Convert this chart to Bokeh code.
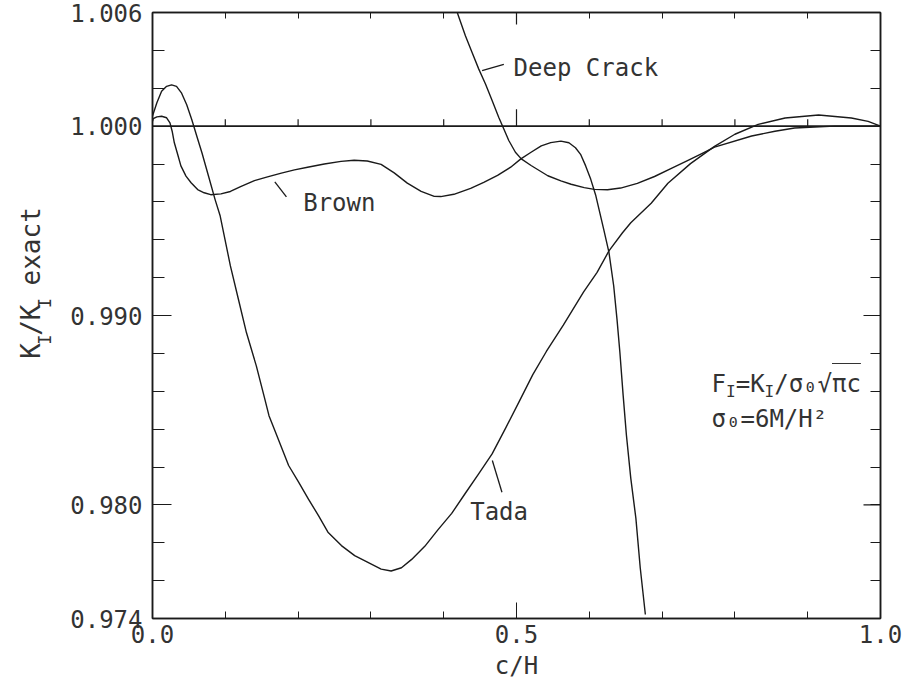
import math
from bokeh.plotting import figure
from bokeh.layouts import row
from bokeh.models import FixedTicker, NumeralTickFormatter, LinearAxis, Label, Span, Range1d
from bokeh.core.properties import value
from bokeh.embed import file_html
from bokeh.resources import INLINE

# ---------------- data ----------------
x_major = [0.0, 0.5, 1.0]
x_minor = [0.1, 0.2, 0.3, 0.4, 0.6, 0.7, 0.8, 0.9]
y_major = [0.974, 0.980, 0.990, 1.000, 1.006]
y_minor = [0.976, 0.978, 0.982, 0.984, 0.986, 0.988, 0.992, 0.994, 0.996, 0.998, 1.002, 1.004]
top_long_ticks = [0.5]
right_long_ticks = [0.980, 0.990]

exact_value = 1.000
exact_tick_x = [0.1, 0.2, 0.3, 0.4, 0.6, 0.7, 0.8, 0.9]
exact_major_tick_x = [0.5]

brown_x = [0.0, 0.001, 0.006, 0.0125, 0.0194, 0.024, 0.027, 0.030, 0.0353, 0.039, 0.046, 0.053,
           0.062, 0.071, 0.080, 0.094, 0.107, 0.121, 0.140, 0.158, 0.177, 0.195, 0.213, 0.236,
           0.259, 0.277, 0.295, 0.314, 0.332, 0.350, 0.369, 0.387, 0.396, 0.414, 0.437, 0.455,
           0.474, 0.492, 0.506, 0.520, 0.534, 0.547, 0.561, 0.572, 0.581, 0.588, 0.595, 0.602,
           0.609, 0.6198, 0.627, 0.6335, 0.638, 0.642, 0.6465, 0.651, 0.657, 0.664, 0.670, 0.677]
brown_y = [1.00026, 1.00039, 1.00049, 1.00052, 1.00044, 1.00017, 0.99973, 0.99912, 0.99841, 0.9979, 0.99736, 0.99701,
           0.99665, 0.99648, 0.99638, 0.99642, 0.99655, 0.99681, 0.99712, 0.99732, 0.99752, 0.99769, 0.99783, 0.998,
           0.99814, 0.9982, 0.99816, 0.99798, 0.99753, 0.99699, 0.99655, 0.99629, 0.99628, 0.9964, 0.99671, 0.99703,
           0.9974, 0.99783, 0.99827, 0.99862, 0.99896, 0.99913, 0.99921, 0.99912, 0.99886, 0.99851, 0.9979, 0.99719,
           0.99632, 0.99455, 0.99333, 0.99157, 0.98982, 0.98806, 0.98578, 0.98368, 0.9814, 0.97929, 0.97667, 0.97421]

tada_x = [0.0, 0.006, 0.0125, 0.0194, 0.0262, 0.033, 0.040, 0.047, 0.054, 0.061, 0.068, 0.077,
          0.086, 0.093, 0.107, 0.118, 0.129, 0.1426, 0.1536, 0.160, 0.169, 0.187, 0.2007, 0.214,
          0.228, 0.241, 0.2595, 0.2777, 0.2959, 0.3141, 0.3278, 0.342, 0.356, 0.374, 0.392, 0.411,
          0.4295, 0.448, 0.4665, 0.4854, 0.504, 0.5224, 0.541, 0.5643, 0.592, 0.6107, 0.627, 0.6456,
          0.657, 0.685, 0.708, 0.739, 0.772, 0.800, 0.832, 0.869, 0.915, 0.960, 0.983, 1.0]
tada_y = [1.00053, 1.00123, 1.00184, 1.0021, 1.00218, 1.0021, 1.00174, 1.00113, 1.00034, 0.99945, 0.99858, 0.99735,
          0.99612, 0.99525, 0.99262, 0.99086, 0.9891, 0.98734, 0.98569, 0.98471, 0.98384, 0.98208, 0.9812, 0.98032,
          0.97943, 0.97856, 0.97785, 0.97732, 0.97696, 0.97661, 0.97651, 0.97668, 0.97712, 0.97781, 0.97868, 0.97955,
          0.9806, 0.98164, 0.98269, 0.98408, 0.98548, 0.98688, 0.9881, 0.98949, 0.99123, 0.99228, 0.99341, 0.99437,
          0.9949, 0.99593, 0.99698, 0.99802, 0.99893, 0.99957, 1.00009, 1.00043, 1.00059, 1.00043, 1.00025, 1.0]

deep_x = [0.415, 0.421, 0.4298, 0.439, 0.4482, 0.4574, 0.4665, 0.4757, 0.4826, 0.4894, 0.4985, 0.5066,
          0.520, 0.543, 0.561, 0.575, 0.593, 0.607, 0.625, 0.643, 0.666, 0.6896, 0.712, 0.7356,
          0.758, 0.772, 0.823, 0.855, 0.882, 0.937, 1.0]
deep_y = [1.0064, 1.00574, 1.00477, 1.00389, 1.00301, 1.00222, 1.00135, 1.00046, 0.99985, 0.99924, 0.99862, 0.99827,
          0.99792, 0.99738, 0.99711, 0.99693, 0.99675, 0.99666, 0.99664, 0.99673, 0.99698, 0.99734, 0.99776, 0.99819,
          0.99862, 0.99889, 0.99948, 0.99973, 0.9999, 1.0000, 1.0000]

# annotation texts and leader lines
curve_names = ["Deep Crack", "Brown", "Tada"]
name_x = [0.496, 0.207, 0.4364]
name_y = [1.00308, 0.99595, 0.97963]
leader_x0 = [0.4527, 0.168, 0.4668]
leader_y0 = [1.00293, 0.99706, 0.98234]
leader_x1 = [0.4826, 0.184, 0.480]
leader_y1 = [1.00326, 0.99626, 0.98067]

FONT = "DejaVu Sans Mono"
INK = "#1a1a1a"
TXT = "#333333"

TITLE_W = 60
W, H = 909, 688
FRAME_L, FRAME_R, FRAME_T, FRAME_B = 152, 880, 12, 618
px_x = 1.0 / (FRAME_R - FRAME_L)
px_y = (1.006 - 0.974) / (FRAME_B - FRAME_T)

p = figure(width=W - TITLE_W, height=H, output_backend="svg", toolbar_location=None,
           x_range=Range1d(0.0, 1.0), y_range=Range1d(0.974, 1.006),
           min_border_left=FRAME_L - TITLE_W, min_border_right=W - FRAME_R,
           min_border_top=FRAME_T, min_border_bottom=H - FRAME_B)
p.xgrid.visible = False
p.ygrid.visible = False
p.outline_line_color = INK
p.outline_line_width = 1.5
p.background_fill_color = "white"
p.border_fill_color = "white"

# bottom axis
xa = p.xaxis[0]
xa.ticker = FixedTicker(ticks=x_major, minor_ticks=x_minor)
xa.formatter = NumeralTickFormatter(format="0.0")
xa.major_tick_in = 16
xa.major_tick_out = 0
xa.minor_tick_in = 7
xa.minor_tick_out = 0
xa.axis_line_width = 1.5
xa.axis_line_color = INK
xa.major_tick_line_color = INK
xa.minor_tick_line_color = INK
xa.major_label_text_font = FONT
xa.major_label_text_font_size = "24px"
xa.major_label_text_color = TXT
xa.major_label_standoff = 6
xa.axis_label = "c/H"
xa.axis_label_text_font = FONT
xa.axis_label_text_font_size = "24px"
xa.axis_label_text_font_style = "normal"
xa.axis_label_text_color = TXT
xa.axis_label_standoff = 6

# left axis
ya = p.yaxis[0]
ya.ticker = FixedTicker(ticks=y_major, minor_ticks=y_minor)
ya.formatter = NumeralTickFormatter(format="0.000")
ya.major_tick_in = 19
ya.major_tick_out = 0
ya.minor_tick_in = 12
ya.minor_tick_out = 0
ya.axis_line_width = 1.5
ya.axis_line_color = INK
ya.major_tick_line_color = INK
ya.minor_tick_line_color = INK
ya.major_label_text_font = FONT
ya.major_label_text_font_size = "24px"
ya.major_label_text_color = TXT
ya.major_label_standoff = 10

# top and right axes: ticks only (no labels)
top = LinearAxis(ticker=FixedTicker(ticks=[], minor_ticks=x_minor + top_long_ticks),
                 minor_tick_in=6, minor_tick_out=0, major_tick_in=0, major_tick_out=0,
                 axis_line_width=1.5, axis_line_color=INK, minor_tick_line_color=INK)
right = LinearAxis(ticker=FixedTicker(ticks=[], minor_ticks=y_minor + y_major),
                   minor_tick_in=10, minor_tick_out=0, major_tick_in=0, major_tick_out=0,
                   axis_line_width=1.5, axis_line_color=INK, minor_tick_line_color=INK)
p.add_layout(top, "above")
p.add_layout(right, "right")

# longer ticks on the top and right edges
p.segment(x0=top_long_ticks, y0=[1.006] * len(top_long_ticks), x1=top_long_ticks,
          y1=[1.006 - 12 * px_y] * len(top_long_ticks), line_color=INK, line_width=1.2)
p.segment(x0=[1.0] * len(right_long_ticks), y0=right_long_ticks,
          x1=[1.0 - 17 * px_x] * len(right_long_ticks), y1=right_long_ticks, line_color=INK, line_width=1.2)

# exact line with its small ticks
p.add_layout(Span(location=exact_value, dimension="width", line_color=INK, line_width=1.6))
p.segment(x0=exact_tick_x, y0=[exact_value] * len(exact_tick_x), x1=exact_tick_x,
          y1=[exact_value + 7 * px_y] * len(exact_tick_x), line_color=INK, line_width=1.2)
p.segment(x0=exact_major_tick_x, y0=[exact_value] * len(exact_major_tick_x), x1=exact_major_tick_x,
          y1=[exact_value + 17 * px_y] * len(exact_major_tick_x), line_color=INK, line_width=1.2)

# curves
for xs, ys in [(brown_x, brown_y), (tada_x, tada_y), (deep_x, deep_y)]:
    p.line(xs, ys, line_color=INK, line_width=1.4, line_join="round")

# leader lines
p.segment(x0=leader_x0, y0=leader_y0, x1=leader_x1, y1=leader_y1, line_color=INK, line_width=1.3)

# curve names
for t, xx, yy in zip(curve_names, name_x, name_y):
    p.add_layout(Label(x=xx, y=yy, text=t, text_font=FONT, text_font_size="24px",
                       text_color=TXT, text_align="left", text_baseline="middle"))

# formula block
adv24 = 0.602 * 24
adv16 = 0.602 * 16
fx = 0.768
fy1 = 1.006 - (383 - FRAME_T) * px_y
fy2 = 1.006 - (418 - FRAME_T) * px_y
pieces1 = [("F", 24, 0.0, 0), ("I", 16, adv24, -8), ("=K", 24, adv24 + adv16, 0),
           ("I", 16, 3 * adv24 + adv16, -8), ("/σ₀√πc", 24, 3 * adv24 + 2 * adv16, 0)]
for t, s, dx, dy in pieces1:
    p.add_layout(Label(x=fx, y=fy1, x_offset=dx, y_offset=dy, text=t, text_font=FONT,
                       text_font_size=f"{s}px", text_color=TXT, text_align="left",
                       text_baseline="alphabetic"))
ol_x0 = fx + (3 * adv24 + 2 * adv16 + 4 * adv24) * px_x
ol_x1 = fx + (3 * adv24 + 2 * adv16 + 6 * adv24) * px_x
ol_y = fy1 + 20 * px_y
p.segment(x0=[ol_x0], y0=[ol_y], x1=[ol_x1], y1=[ol_y], line_color=TXT, line_width=1.2)
p.add_layout(Label(x=fx, y=fy2, text="σ₀=6M/H²", text_font=FONT, text_font_size="24px",
                   text_color=TXT, text_align="left", text_baseline="alphabetic"))

# ---------------- rotated y-axis title in a narrow side figure ----------------
tf = figure(width=TITLE_W, height=H, output_backend="svg", toolbar_location=None,
            x_range=Range1d(0, TITLE_W), y_range=Range1d(0, H),
            x_axis_type=None, y_axis_type=None,
            min_border_left=0, min_border_right=0, min_border_top=0, min_border_bottom=0)
tf.outline_line_color = None
tf.xgrid.visible = False
tf.ygrid.visible = False
tf.background_fill_color = "white"
tf.border_fill_color = "white"

adv26 = 0.602 * 26
adv17 = 0.602 * 17
base_x = 30
start_y = H - 393
ypieces = [("K", 26, 0.0, 0), ("I", 17, adv26, 14), ("/K", 26, adv26 + adv17, 0),
           ("I", 17, 3 * adv26 + adv17, 14), ("exact", 26, 4 * adv26 + 2 * adv17, 0)]
for t, s, dy, dx in ypieces:
    tf.text(x=[base_x + dx], y=[start_y + dy], text=[t], angle=math.pi / 2,
            text_font=value(FONT), text_font_size=value(f"{s}px"), text_color=TXT,
            text_align="left", text_baseline="alphabetic")

layout = row(tf, p)
open("out.html", "w").write(file_html(layout, INLINE))
